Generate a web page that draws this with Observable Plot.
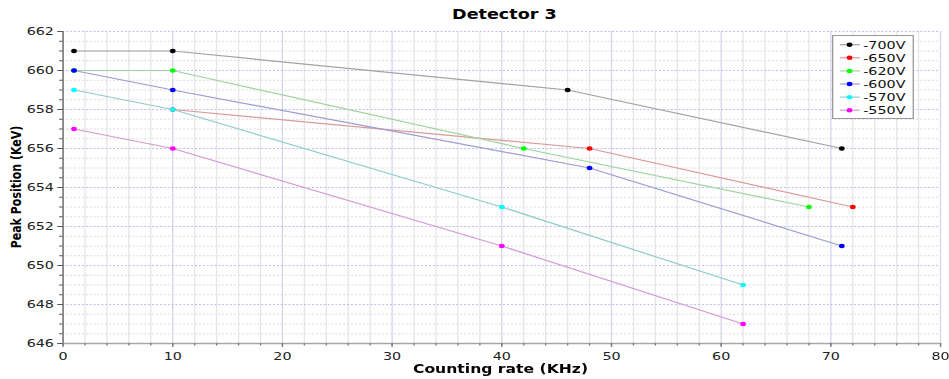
<!DOCTYPE html>
<html>
<head>
<meta charset="utf-8">
<script src="https://cdn.jsdelivr.net/npm/d3@7"></script>
<script src="https://cdn.jsdelivr.net/npm/@observablehq/plot@0.6"></script>
<style>
  html, body { margin: 0; padding: 0; background: #fff; }
  #outer { position: relative; width: 949px; height: 379px; overflow: hidden; background: #fff; }
  #inner { position: absolute; left: 0; top: 0; width: 730px; height: 379px; transform: scaleX(1.3); transform-origin: 0 0; font-family: "DejaVu Sans", sans-serif; }
  #chart { position: absolute; left: 0; top: 0; }
  .lbl { position: absolute; white-space: nowrap; font-weight: bold; color: #000; line-height: 1; }
  #title { left: 288px; width: 200px; top: 8px; text-align: center; font-size: 13.5px; }
  #xlabel { left: 285px; width: 200px; top: 363px; text-align: center; font-size: 12px; }
  #ylabel { left: 13px; top: 187px; width: 200px; text-align: center; font-size: 11px; transform: translate(-50%, -50%) rotate(-90deg); }
  #legend { position: absolute; left: 640px; top: 35px; }
</style>
</head>
<body>
<div id="outer">
  <div id="inner">
    <div id="chart"></div>
    <div id="title" class="lbl">Detector 3</div>
    <div id="xlabel" class="lbl">Counting rate (KHz)</div>
    <div id="ylabel" class="lbl">Peak Position (KeV)</div>
    <div id="legend"></div>
  </div>
</div>
<script>
// ---- data ----
const series = ["-700V", "-650V", "-620V", "-600V", "-570V", "-550V"];
const pointColors = ["#000000", "#ff0000", "#00ff00", "#0000ff", "#00ffff", "#ff00ff"];
const lineColors = ["#a2a2a2", "#d99a9a", "#9ed49e", "#9c9cd4", "#92cccc", "#d29cd2"];

const rate700 = [1, 10, 46, 71];
const peak700 = [661, 661, 659, 656];
const rate650 = [10, 48, 72];
const peak650 = [658, 656, 653];
const rate620 = [1, 10, 42, 68];
const peak620 = [660, 660, 656, 653];
const rate600 = [1, 10, 48, 71];
const peak600 = [660, 659, 655, 651];
const rate570 = [1, 10, 40, 62];
const peak570 = [659, 658, 653, 649];
const rate550 = [1, 10, 40, 62];
const peak550 = [657, 656, 651, 647];

const xTicks = [0, 10, 20, 30, 40, 50, 60, 70, 80];
const yTicks = [646, 648, 650, 652, 654, 656, 658, 660, 662];

// ---- build ----
const seriesData = [
  [rate700, peak700], [rate650, peak650], [rate620, peak620],
  [rate600, peak600], [rate570, peak570], [rate550, peak550]
].map(([r, p]) => r.map((v, i) => ({rate: v, peak: p[i]})));

const xMinor = d3.range(0, 81, 2);
const yMinor = d3.range(646, 662.01, 0.5);

const seriesMarks = [];
seriesData.forEach((rows, i) => {
  seriesMarks.push(Plot.line(rows, {x: "rate", y: "peak", stroke: lineColors[i], strokeWidth: 1.2}));
  seriesMarks.push(Plot.dot(rows, {x: "rate", y: "peak", fill: pointColors[i], r: 2.2, stroke: "none"}));
});

const chart = Plot.plot({
  width: 730,
  height: 379,
  marginLeft: 48,
  marginRight: 7,
  marginTop: 31,
  marginBottom: 36,
  style: {fontFamily: "DejaVu Sans", fontSize: "11px", color: "#222", background: "white", overflow: "visible"},
  x: {domain: [0, 80], label: null},
  y: {domain: [646, 662], label: null},
  marks: [
    Plot.ruleX(xMinor.filter(v => v % 10 !== 0), {stroke: "#e6e6e6", strokeWidth: 1}),
    Plot.ruleX(xTicks.slice(1), {stroke: "#d4d4f0", strokeWidth: 1}),
    Plot.ruleY(yMinor.filter(v => v % 2 !== 0), {stroke: "#dadada", strokeDasharray: "1.5,1.5"}),
    Plot.ruleY(yTicks.slice(1), {stroke: "#bcbcec", strokeDasharray: "1.5,1.5"}),
    ...seriesMarks,
    Plot.ruleX([0], {stroke: "#555", strokeWidth: 1}),
    Plot.ruleY([646], {stroke: "#a8a8a8", strokeWidth: 1.5}),
    Plot.axisY({ticks: yMinor, tickSize: 2.5, fill: "none", stroke: "#555", label: null}),
    Plot.axisY({ticks: yTicks, tickSize: 4, tickPadding: 3, stroke: "#555", fill: "#222", fontSize: 11, label: null}),
    Plot.axisX({ticks: xMinor, tickSize: 2.5, fill: "none", stroke: "#777", label: null}),
    Plot.axisX({ticks: xTicks, tickSize: 4, tickPadding: 5, stroke: "#777", fill: "#222", fontSize: 11, label: null})
  ]
});
document.getElementById("chart").appendChild(chart);

// ---- legend ----
const lw = 63, lh = 84;
const leg = d3.select("#legend").append("svg").attr("width", lw).attr("height", lh)
  .style("font-family", "DejaVu Sans").style("overflow", "visible");
leg.append("rect").attr("x", 0.5).attr("y", 0.5).attr("width", lw - 1).attr("height", lh - 1)
  .attr("fill", "#fff").attr("stroke", "#999").attr("stroke-width", 1);
series.forEach((name, i) => {
  const cy = 9.7 + i * 13.1;
  const g = leg.append("g");
  g.append("line").attr("x1", 6).attr("x2", 21.5).attr("y1", cy).attr("y2", cy)
    .attr("stroke", lineColors[i]).attr("stroke-width", 1.2);
  g.append("circle").attr("cx", 13.5).attr("cy", cy).attr("r", 2.2).attr("fill", pointColors[i]);
  g.append("text").attr("x", 24).attr("y", cy).attr("dy", "0.36em")
    .attr("font-size", 11).attr("fill", "#111").text(name);
});
</script>
</body>
</html>
